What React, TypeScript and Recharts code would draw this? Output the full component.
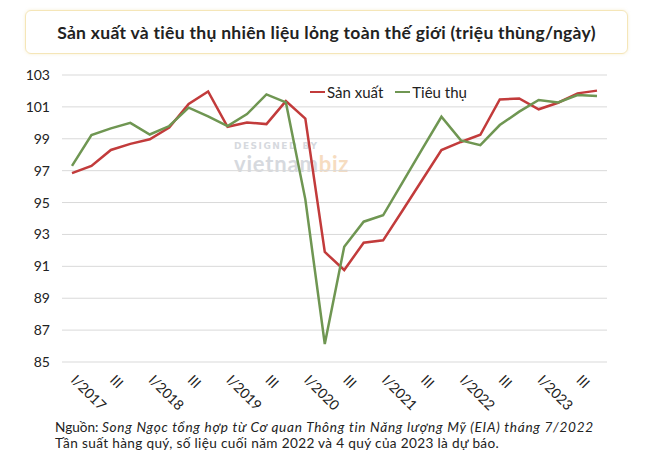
import React from 'react'
import { LineChart, Line, XAxis, YAxis, CartesianGrid } from 'recharts'

const quarters = [
  'I/2017', 'II/2017', 'III', 'IV/2017',
  'I/2018', 'II/2018', 'III', 'IV/2018',
  'I/2019', 'II/2019', 'III', 'IV/2019',
  'I/2020', 'II/2020', 'III', 'IV/2020',
  'I/2021', 'II/2021', 'III', 'IV/2021',
  'I/2022', 'II/2022', 'III', 'IV/2022',
  'I/2023', 'II/2023', 'III', 'IV/2023',
]

const sanXuat = [
  96.85, 97.3, 98.3, 98.68, 98.97, 99.7, 101.18, 101.97,
  99.75, 100.02, 99.92, 101.36, 100.27, 91.9, 90.77, 92.48,
  92.63, 94.5, 96.4, 98.29, 98.8, 99.25, 101.47, 101.53,
  100.85, 101.26, 101.85, 102.02,
]

const tieuThu = [
  97.3, 99.23, 99.65, 100.0, 99.27, 99.8, 100.95, 100.4,
  99.8, 100.55, 101.78, 101.28, 95.2, 86.13, 92.23, 93.8,
  94.2, 96.27, 98.33, 100.38, 98.9, 98.6, 99.86, 100.7,
  101.43, 101.28, 101.74, 101.68,
]

const yTicks = [85, 87, 89, 91, 93, 95, 97, 99, 101, 103]

const series = [
  { key: 'sx', name: 'Sản xuất', color: '#c23b3b' },
  { key: 'tt', name: 'Tiêu thụ', color: '#6f9652' },
]

const data = quarters.map((q, i) => ({ q, sx: sanXuat[i], tt: tieuThu[i] }))

const FONT = 'Lato, "Noto Sans", sans-serif'

function QuarterTick(props: any) {
  const { x, y, payload } = props
  return (
    <g transform={`translate(${x - 2},${y + 19}) rotate(45)`}>
      <text x={0} y={0} textAnchor="start" fontSize={14} fill="#222" fontFamily={FONT}>
        {payload.value}
      </text>
    </g>
  )
}

export default function App() {
  return (
    <div style={{ position: 'absolute', left: 0, top: 0, width: 667, height: 459, background: '#fff', fontFamily: FONT }}>
      <div
        style={{
          position: 'absolute', left: 25, top: 10, width: 603, height: 44,
          border: '1px solid #f5e6b8', borderRadius: 6, boxSizing: 'border-box',
          boxShadow: '0 0 3px rgba(240,220,160,0.5)',
          display: 'flex', alignItems: 'center', justifyContent: 'center',
          fontWeight: 700, fontSize: 17.5, letterSpacing: 0.3, color: '#222',
        }}
      >
        Sản xuất và tiêu thụ nhiên liệu lỏng toàn thế giới (triệu thùng/ngày)
      </div>

      {/* watermark */}
      <div style={{ position: 'absolute', left: 234, top: 141, color: '#d6d9de', fontSize: 9, lineHeight: '10px', fontWeight: 700, letterSpacing: 1.5, fontFamily: 'DejaVu Sans, sans-serif' }}>
        DESIGNED BY
      </div>
      <div style={{ position: 'absolute', left: 234, top: 153, color: '#d6d9de', fontSize: 22, lineHeight: '22px', fontWeight: 700, fontFamily: FONT, letterSpacing: 0.8 }}>
        vietnam<span style={{ color: '#f6dcc0' }}>biz</span>
      </div>

      <div style={{ position: 'absolute', left: 0, top: 0 }}>
        <LineChart width={667} height={459} data={data} margin={{ top: 75, right: 60, bottom: 0, left: 0 }}>
          <CartesianGrid vertical={false} stroke="#d9d9d9" strokeWidth={1} />
          <XAxis
            dataKey="q"
            interval={1}
            height={97}
            padding={{ left: 10, right: 10 }}
            axisLine={false}
            tickLine={false}
            tickSize={0}
            tickMargin={0}
            tick={<QuarterTick />}
          />
          <YAxis
            domain={[85, 103]}
            ticks={yTicks}
            width={62}
            axisLine={false}
            tickLine={false}
            tickSize={0}
            tickMargin={12}
            tick={{ fontSize: 14, fill: '#222', fontFamily: FONT }}
          />
          {series.map((s) => (
            <Line
              key={s.key}
              type="linear"
              dataKey={s.key}
              name={s.name}
              stroke={s.color}
              strokeWidth={2.5}
              dot={false}
              isAnimationActive={false}
            />
          ))}
        </LineChart>
      </div>

      {/* legend */}
      <div style={{ position: 'absolute', left: 310, top: 83, height: 18, display: 'flex', alignItems: 'center', fontSize: 15, color: '#222' }}>
        {series.map((s, i) => (
          <div key={s.key} style={{ display: 'flex', alignItems: 'center', marginRight: i === 0 ? 12 : 0 }}>
            <div style={{ width: 15, height: 2.5, background: s.color, marginRight: 2 }} />
            <span>{s.name}</span>
          </div>
        ))}
      </div>

      <div style={{ position: 'absolute', left: 55, top: 419, fontSize: 13.6, color: '#222', lineHeight: '16px' }}>
        <div>
          Nguồn: <i style={{ letterSpacing: 0.72 }}>Song Ngọc tổng hợp từ Cơ quan Thông tin Năng lượng Mỹ (EIA) tháng 7/2022</i>
        </div>
        <div style={{ letterSpacing: 0.35 }}>Tần suất hàng quý, số liệu cuối năm 2022 và 4 quý của 2023 là dự báo.</div>
      </div>
    </div>
  )
}
